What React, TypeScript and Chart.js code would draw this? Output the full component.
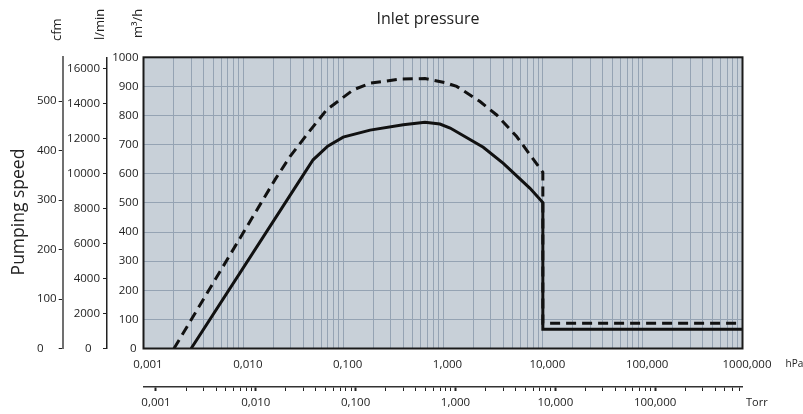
import React, { useEffect, useRef } from "react";
import { Chart, registerables } from "chart.js";

Chart.register(...registerables);

// ---- data ----
const solidPressure = [0.003, 0.037, 0.05, 0.07, 0.1, 0.186, 0.4, 0.66, 0.93, 1.18, 2.53, 4.02, 7.44, 10, 10, 1000];
const solidSpeed = [0, 579, 648, 695, 726, 750, 768, 777, 771, 757, 691, 636, 550, 501, 66, 66];

const dashedPressure = [0.00202, 0.0207, 0.0293, 0.045, 0.0684, 0.126, 0.186, 0.37, 0.66, 1.05, 1.37, 2.35, 3.45, 5.47, 10, 10, 1000];
const dashedSpeed = [0, 579, 659, 742, 820, 888, 911, 925, 927, 913, 900, 848, 802, 728, 605, 87, 87];

const hpaDecades = [0.001, 0.01, 0.1, 1, 10, 100, 1000];
const hpaLabels = ["0,001", "0,010", "0,100", "1,000", "10,000", "100,000", "1000,000"];
const torrDecades = [0.001, 0.01, 0.1, 1, 10, 100];
const torrLabels = ["0,001", "0,010", "0,100", "1,000", "10,000", "100,000"];

const m3hTicks = [0, 100, 200, 300, 400, 500, 600, 700, 800, 900, 1000];
const lminTicks = [0, 2000, 4000, 6000, 8000, 10000, 12000, 14000, 16000];
const cfmTicks = [0, 100, 200, 300, 400, 500];

const HPA_PER_TORR = 1.33322;
const LMIN_PER_M3H = 1000 / 60;
const CFM_PER_M3H = 1 / 1.699;

// ---- style ----
const FONT = "'Open Sans', 'DejaVu Sans', sans-serif";
const BG = "#c8d0d8";
const GRID = "#95a3b3";
const INK = "#222222";
const LINE = "#111111";

function expand(decades: number[], max: number) {
  const vals: number[] = [];
  const labels: string[] = [];
  decades.forEach((d) => {
    for (let m = 1; m <= 9; m++) {
      const v = +(m * d).toPrecision(6);
      if (v <= max * 1.0001) {
        vals.push(v);
        labels.push(m === 1 ? "D" : "");
      }
    }
  });
  return { vals, labels };
}

const decorPlugin = {
  id: "decor",
  beforeDraw(chart: any) {
    const { ctx, chartArea: a } = chart;
    ctx.save();
    ctx.fillStyle = BG;
    ctx.fillRect(a.left, a.top, a.right - a.left, a.bottom - a.top);
    ctx.restore();
  },
  afterDraw(chart: any) {
    const { ctx, chartArea: a } = chart;
    ctx.save();
    ctx.strokeStyle = "#1a1a1a";
    ctx.lineWidth = 2;
    ctx.strokeRect(a.left, a.top, a.right - a.left, a.bottom - a.top);

    ctx.fillStyle = INK;
    // top title
    ctx.font = `16px ${FONT}`;
    ctx.textAlign = "center";
    ctx.textBaseline = "alphabetic";
    ctx.fillText("Inlet pressure", 428, 24);

    // rotated texts
    const rot = (text: string, x: number, y: number, size: number, align: CanvasTextAlign) => {
      ctx.save();
      ctx.translate(x, y);
      ctx.rotate(-Math.PI / 2);
      ctx.font = `${size}px ${FONT}`;
      ctx.textAlign = align;
      ctx.textBaseline = "middle";
      ctx.fillText(text, 0, 0);
      ctx.restore();
    };
    rot("Pumping speed", 19, 212, 17.5, "center");
    rot("cfm", 57.5, 41, 13, "left");
    rot("l/min", 100.5, 40, 13, "left");
    rot("m³/h", 138.5, 38, 13, "left");

    // units on the pressure axes
    ctx.textAlign = "left";
    ctx.textBaseline = "middle";
    ctx.font = `10px ${FONT}`;
    ctx.fillText("hPa", 785.5, 364);
    ctx.font = `11px ${FONT}`;
    ctx.fillText("Torr", 746, 403);
    ctx.restore();
  },
};

export default function App() {
  const ref = useRef<HTMLCanvasElement | null>(null);

  useEffect(() => {
    if (!ref.current) return;
    Chart.defaults.font.family = FONT;
    Chart.defaults.color = INK;

    const hpa = expand(hpaDecades.slice(0, 6), 1000);
    hpa.vals.push(1000);
    hpa.labels.push("D");
    let di = 0;
    const hpaText = hpa.labels.map((l) => (l === "D" ? hpaLabels[di++] : ""));

    const torrMax = 1000 / HPA_PER_TORR;
    const torr = expand(torrDecades, torrMax);
    let ti = 0;
    const torrText = torr.labels.map((l) => (l === "D" ? torrLabels[ti++] : ""));

    const chart = new Chart(ref.current, {
      type: "line",
      data: {
        datasets: [
          {
            label: "solid",
            data: solidPressure.map((p, i) => ({ x: p, y: solidSpeed[i] })),
            borderColor: LINE,
            borderWidth: 3,
            pointRadius: 0,
            tension: 0,
            fill: false,
            borderJoinStyle: "miter",
            xAxisID: "x",
            yAxisID: "y",
          },
          {
            label: "dashed",
            data: dashedPressure.map((p, i) => ({ x: p, y: dashedSpeed[i] })),
            borderColor: LINE,
            borderWidth: 3,
            borderDash: [10, 6],
            pointRadius: 0,
            tension: 0,
            fill: false,
            borderJoinStyle: "miter",
            xAxisID: "x",
            yAxisID: "y",
          },
        ],
      },
      options: {
        responsive: false,
        animation: false,
        events: [],
        layout: { padding: { top: 57.3, right: 60.5, left: 0, bottom: 0 } },
        plugins: { legend: { display: false }, tooltip: { enabled: false }, title: { display: false } },
        scales: {
          x: {
            type: "logarithmic",
            position: "bottom",
            weight: 0,
            min: 0.001,
            max: 1000,
            afterBuildTicks: (s: any) => {
              s.ticks = hpa.vals.map((v) => ({ value: v }));
            },
            ticks: {
              autoSkip: false,
              maxRotation: 0,
              minRotation: 0,
              labelOffset: 4.5,
              padding: 9,
              color: INK,
              font: { size: 11.5 },
              callback: (_v: any, i: number) => hpaText[i],
            },
            grid: { color: GRID, lineWidth: 1, drawTicks: false },
            border: { display: false },
            afterFit: (s: any) => {
              s.height = 38.5;
            },
          },
          xTorr: {
            type: "logarithmic",
            position: "bottom",
            weight: 1,
            min: 0.001 / HPA_PER_TORR,
            max: torrMax,
            afterBuildTicks: (s: any) => {
              s.ticks = torr.vals.map((v) => ({ value: v }));
            },
            ticks: {
              autoSkip: false,
              maxRotation: 0,
              minRotation: 0,
              padding: 5,
              color: INK,
              font: { size: 11.5 },
              callback: (_v: any, i: number) => torrText[i],
            },
            grid: {
              drawOnChartArea: false,
              drawTicks: true,
              tickLength: 4,
              tickColor: INK,
              tickWidth: (ctx: any) => (torrText[ctx.index] ? 2 : 1),
            },
            border: { display: true, color: "#333333", width: 1.5 },
            afterFit: (s: any) => {
              s.height = 27;
            },
          },
          y: {
            type: "linear",
            position: "left",
            weight: 0,
            min: 0,
            max: 1000,
            afterBuildTicks: (s: any) => {
              s.ticks = m3hTicks.map((v) => ({ value: v }));
            },
            ticks: {
              padding: 5,
              color: INK,
              font: { size: 11.5 },
              callback: (v: any) => (v === 0 ? "0\u2009" : String(v)),
            },
            grid: { color: GRID, lineWidth: 1, drawTicks: false },
            border: { display: false },
            afterFit: (s: any) => {
              s.width = 36.5;
            },
          },
          yL: {
            type: "linear",
            position: "left",
            weight: 1,
            min: 0,
            max: 1000 * LMIN_PER_M3H,
            afterBuildTicks: (s: any) => {
              s.ticks = lminTicks.map((v) => ({ value: v }));
            },
            ticks: {
              padding: 3,
              color: INK,
              font: { size: 11.5 },
              callback: (v: any) => (v === 0 ? "0\u2007\u2009" : String(v)),
            },
            grid: { drawOnChartArea: false, drawTicks: true, tickLength: 4, tickColor: INK, tickWidth: 1 },
            border: { display: true, color: "#222222", width: 1.5 },
            afterFit: (s: any) => {
              s.width = 44.3;
            },
          },
          yC: {
            type: "linear",
            position: "left",
            weight: 2,
            min: 0,
            max: 1000 * CFM_PER_M3H,
            afterBuildTicks: (s: any) => {
              s.ticks = cfmTicks.map((v) => ({ value: v }));
            },
            ticks: {
              padding: 2,
              color: INK,
              font: { size: 11.5 },
              callback: (v: any) => (v === 0 ? "0\u2007\u2007" : String(v)),
            },
            grid: { drawOnChartArea: false, drawTicks: true, tickLength: 4, tickColor: INK, tickWidth: 1 },
            border: { display: true, color: "#707070", width: 2 },
            afterFit: (s: any) => {
              s.width = 62.7;
            },
          },
        },
      },
      plugins: [decorPlugin],
    } as any);

    return () => chart.destroy();
  }, []);

  return (
    <div style={{ position: "fixed", left: 0, top: 0, width: 803, height: 414, background: "#ffffff" }}>
      <canvas ref={ref} width={803} height={414} style={{ display: "block" }} />
    </div>
  );
}
